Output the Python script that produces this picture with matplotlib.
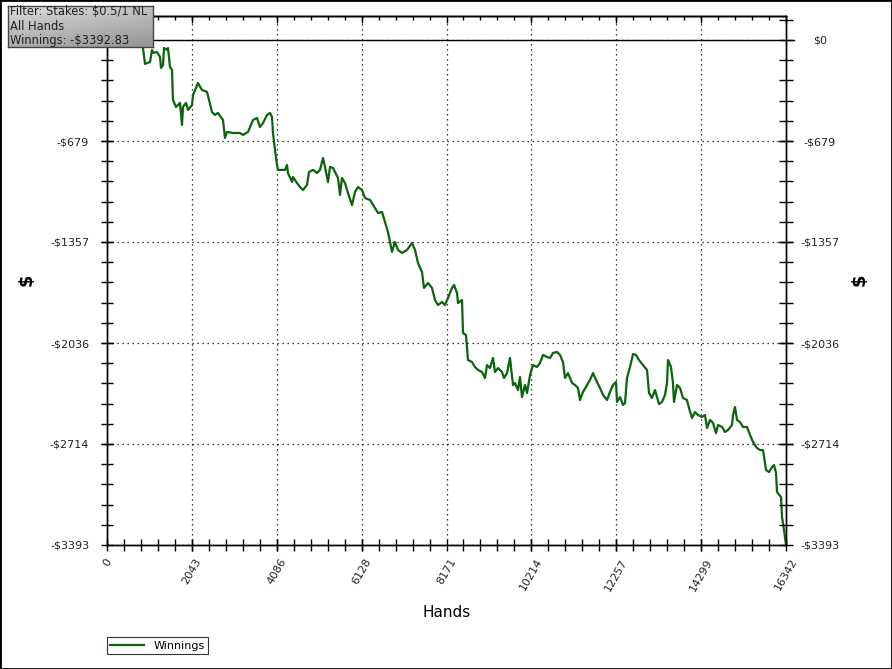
import numpy as np
import matplotlib
matplotlib.use("Agg")
import matplotlib.pyplot as plt
from matplotlib.ticker import FixedLocator, NullFormatter
from matplotlib.patches import Rectangle
from matplotlib.lines import Line2D

# ---- data ----
hands = [0, 241, 481, 722, 866, 915, 1035, 1083, 1107, 1203, 1276, 1300, 1348, 1372, 1444, 1468,
         1516, 1564, 1588, 1661, 1757, 1805, 1829, 1901, 1950, 2046, 2070, 2190, 2286, 2407, 2527,
         2599, 2672, 2792, 2840, 2888, 3032, 3201, 3273, 3394, 3514, 3610, 3682, 3755, 3851, 3923,
         3971, 3995, 4043, 4092, 4116, 4284, 4332, 4356, 4453, 4477, 4573, 4645, 4717, 4814, 4862,
         4958, 5054, 5126, 5199, 5247, 5319, 5367, 5439, 5560, 5608, 5656, 5728, 5800, 5897, 5969,
         6041, 6137, 6210, 6330, 6450, 6522, 6619, 6691, 6763, 6859, 6932, 7004, 7100, 7220, 7341,
         7413, 7485, 7581, 7630, 7726, 7822, 7894, 7966, 8063, 8135, 8207, 8303, 8352, 8424, 8448,
         8544, 8568, 8640, 8689, 8785, 8857, 8929, 9026, 9098, 9146, 9218, 9290, 9338, 9411, 9507,
         9555, 9627, 9699, 9772, 9820, 9892, 9940, 9988, 10060, 10109, 10181, 10253, 10349, 10421,
         10494, 10590, 10662, 10734, 10831, 10903, 10975, 11023, 11095, 11192, 11264, 11336, 11384,
         11456, 11553, 11625, 11697, 11793, 11866, 11938, 12034, 12106, 12178, 12251, 12275, 12347,
         12419, 12467, 12515, 12588, 12660, 12732, 12804, 12900, 12997, 13045, 13117, 13189, 13237,
         13286, 13358, 13430, 13478, 13502, 13574, 13622, 13646, 13719, 13791, 13863, 13959, 14008,
         14080, 14152, 14224, 14320, 14393, 14441, 14513, 14585, 14657, 14706, 14802, 14874, 14946,
         15043, 15067, 15115, 15163, 15235, 15307, 15404, 15476, 15548, 15644, 15716, 15789, 15861,
         15933, 16005, 16053, 16102, 16126, 16222, 16246, 16294, 16342]
winnings = [0, 20, -30, 10, -54, -161, -148, -67, -87, -81, -114, -188, -168, -54, -67, -54,
            -181, -202, -403, -450, -423, -571, -450, -423, -470, -437, -370, -289, -336, -349, -484,
            -504, -490, -538, -658, -618, -625, -625, -638, -618, -538, -524, -585, -558, -504, -490,
            -517, -625, -739, -840, -873, -873, -840, -894, -954, -921, -961, -988, -1008, -974, -887,
            -873, -894, -873, -793, -853, -954, -853, -860, -927, -1041, -927, -961, -1028, -1109, -1021,
            -988, -1008, -1062, -1075, -1129, -1162, -1156, -1223, -1290, -1424, -1357, -1411, -1431, -1411, -1364,
            -1411, -1498, -1559, -1666, -1633, -1666, -1747, -1781, -1760, -1781, -1733, -1666, -1646, -1700, -1767,
            -1747, -1969, -1982, -2150, -2164, -2197, -2217, -2231, -2271, -2184, -2204, -2137, -2231, -2204, -2231,
            -2271, -2238, -2137, -2318, -2305, -2352, -2264, -2399, -2318, -2372, -2251, -2184, -2197, -2170,
            -2116, -2130, -2137, -2103, -2096, -2116, -2164, -2271, -2238, -2305, -2318, -2338, -2419,
            -2365, -2318, -2284, -2238, -2298, -2338, -2385, -2419, -2365, -2318, -2298, -2432, -2399,
            -2452, -2439, -2271, -2197, -2110, -2116, -2150, -2184, -2217, -2372, -2405, -2352, -2399,
            -2446, -2432, -2385, -2305, -2150, -2197, -2305, -2432, -2318, -2338, -2405, -2419, -2473,
            -2540, -2500, -2520, -2533, -2520, -2607, -2553, -2573, -2641, -2587, -2600, -2634, -2620,
            -2587, -2520, -2466, -2553, -2567, -2600, -2600, -2654, -2701, -2741, -2755, -2755, -2889,
            -2903, -2869, -2856, -2909, -3037, -3071, -3205, -3292, -3392.83]

x_ticks = [0, 2043, 4086, 6128, 8171, 10214, 12257, 14299, 16342]
x_tick_labels = ["0", "2043", "4086", "6128", "8171", "10214", "12257", "14299", "16342"]
y_ticks = [0, -679, -1357, -2036, -2714, -3393]
y_tick_labels = ["$0", "-$679", "-$1357", "-$2036", "-$2714", "-$3393"]
info_lines = ["Filter: Stakes: $0.5/1 NL", "All Hands", "Winnings: -$3392.83"]
series_name = "Winnings"

W, H = 892, 669
fig = plt.figure(figsize=(W / 100, H / 100), dpi=100)
fig.patch.set_facecolor("white")

L, R, T, B = 107, 786, 16, 545
ax = fig.add_axes([L / W, 1 - B / H, (R - L) / W, (B - T) / H])

ax.plot(hands, winnings, color="#0b640b", lw=1.6, zorder=3)
XMAX, YMIN, YMAX = 16342, -3393, 161
ax.set_xlim(0, XMAX)
ax.set_ylim(YMIN, YMAX)

ax.axhline(0, color="black", lw=1.0, xmin=0, xmax=1.012, clip_on=False, zorder=2)

xminor = np.arange(0, XMAX + 1, XMAX / 40)
yminor = np.arange(YMIN, 140, -YMIN / 25)

# bottom x axis
ax.xaxis.set_major_locator(FixedLocator(x_ticks))
ax.set_xticklabels(x_tick_labels)
ax.xaxis.set_minor_locator(FixedLocator(xminor))
ax.tick_params(axis="x", which="both", direction="inout", length=8.6, width=1,
               bottom=True, top=False, labelsize=8, labelcolor="#222222", pad=4.3)
for t in ax.xaxis.get_ticklabels():
    t.set_rotation(60)
    t.set_ha("center")
    t.set_va("top")

# top ticks (inward)
top = ax.secondary_xaxis("top")
top.xaxis.set_major_locator(FixedLocator(x_ticks))
top.xaxis.set_minor_locator(FixedLocator(xminor))
top.xaxis.set_major_formatter(NullFormatter())
top.tick_params(axis="x", which="major", direction="in", length=5, width=1)
top.tick_params(axis="x", which="minor", direction="in", length=3.2, width=1)
top.spines["top"].set_linewidth(1.0)

# left y axis (no $0 label on the left)
ax.yaxis.set_major_locator(FixedLocator(y_ticks[1:]))
ax.set_yticklabels(y_tick_labels[1:])
ax.yaxis.set_minor_locator(FixedLocator(yminor))
ax.tick_params(axis="y", which="both", direction="inout", length=8.6, width=1,
               left=True, right=False, labelsize=8, labelcolor="#222222", pad=8.6)

# right y axis
ax2 = ax.twinx()
ax2.set_ylim(YMIN, YMAX)
ax2.yaxis.set_major_locator(FixedLocator(y_ticks))
ax2.set_yticklabels(y_tick_labels)
ax2.yaxis.set_minor_locator(FixedLocator(yminor))
ax2.tick_params(axis="y", which="both", direction="inout", length=10, width=1,
                labelsize=8, labelcolor="#222222", pad=19.5)
for t in ax2.yaxis.get_ticklabels():
    t.set_ha("center")

# grid at major ticks
ax.grid(True, axis="x", which="major", color="black", linestyle=(0, (1, 3)), lw=0.9)
ax2.grid(True, axis="y", which="major", color="black", linestyle=(0, (1, 3)), lw=0.9)

for a in (ax, ax2):
    for s in a.spines.values():
        s.set_linewidth(1.0)
        s.set_color("black")

ax.set_xlabel("Hands", fontsize=11, labelpad=9)
fig.text(27 / W, 1 - 280 / H, "$", rotation=90, fontsize=13, fontweight="bold",
         ha="center", va="center")
fig.text(860 / W, 1 - 280 / H, "$", rotation=90, fontsize=13, fontweight="bold",
         ha="center", va="center")

# legend
handle = Line2D([], [], color="#0b640b", lw=1.6)
leg = fig.legend([handle], [series_name], loc="lower left",
                 bbox_to_anchor=(107 / W, 1 - 654 / H), fontsize=8, frameon=True,
                 fancybox=False, edgecolor="black", handlelength=3.0,
                 borderpad=0.3, handletextpad=0.9, borderaxespad=0)
leg.get_frame().set_linewidth(0.8)

# info box with gradient
bx0, by0, bx1, by1 = 8, 6, 153, 47
bax = fig.add_axes([bx0 / W, 1 - by1 / H, (bx1 - bx0) / W, (by1 - by0) / H], zorder=10)
gy, gx = np.mgrid[0:1:50j, 0:1:150j]
g = 0.86 - 0.28 * (0.65 * gy + 0.35 * gx)
bax.imshow(np.dstack([g, g, g]), aspect="auto", extent=(0, 1, 0, 1), origin="upper")
bax.set_xlim(0, 1)
bax.set_ylim(0, 1)
bax.set_xticks([])
bax.set_yticks([])
for s in bax.spines.values():
    s.set_color("#444444")
    s.set_linewidth(1.0)
for i, line in enumerate(info_lines):
    bax.text(0.015, 0.87 - i * 0.36, line, fontsize=8.3, color="#202020",
             ha="left", va="center", transform=bax.transAxes)

# figure border
fig.patches.append(Rectangle((0, 0), 1, 1, transform=fig.transFigure, fill=False,
                             edgecolor="black", lw=2))

fig.savefig("out.png", dpi=100)
